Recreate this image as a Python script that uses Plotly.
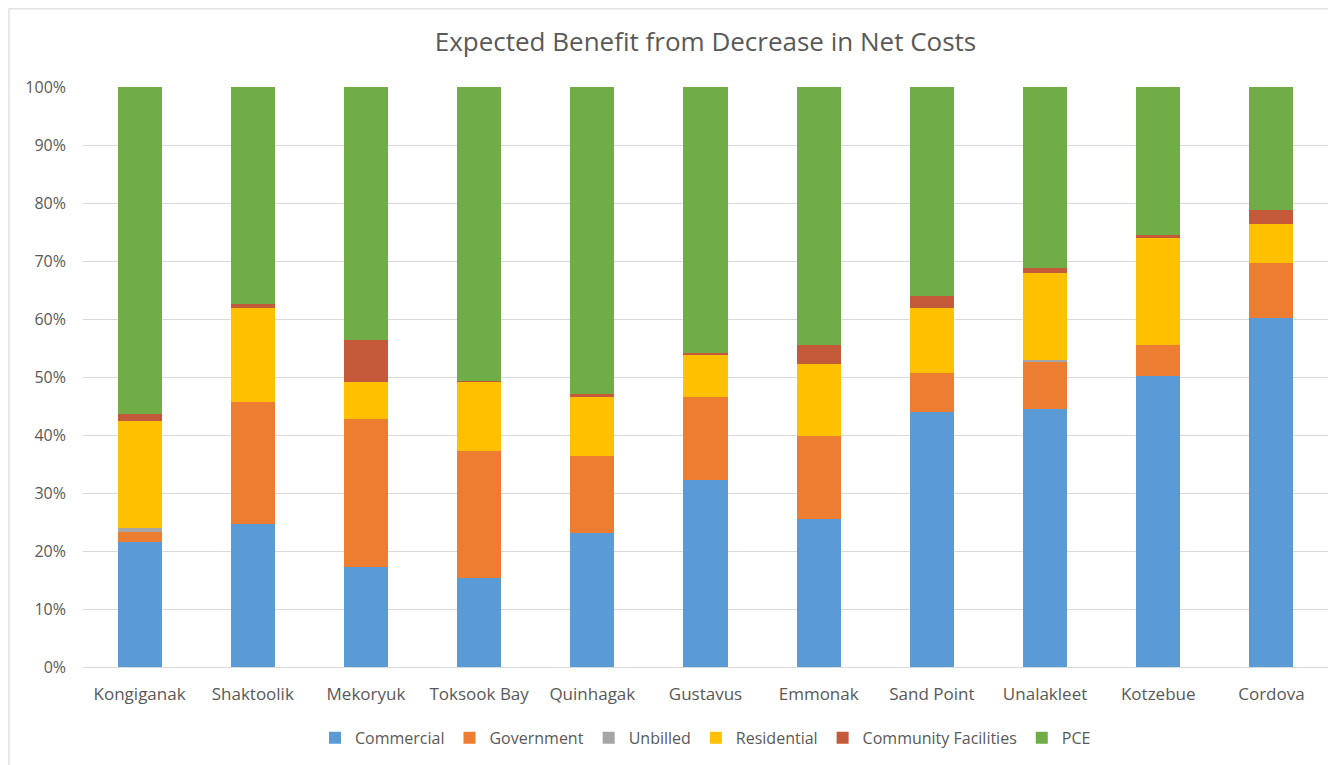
import plotly.graph_objects as go

communities = ["Kongiganak", "Shaktoolik", "Mekoryuk", "Toksook Bay", "Quinhagak",
               "Gustavus", "Emmonak", "Sand Point", "Unalakleet", "Kotzebue", "Cordova"]

commercial = [21.6, 24.7, 17.3, 15.4, 23.1, 32.2, 25.6, 44.0, 44.5, 50.2, 60.2]
government = [1.7, 21.0, 25.5, 21.8, 13.3, 14.3, 14.3, 6.7, 8.2, 5.4, 9.5]
unbilled = [0.7, 0.0, 0.0, 0.0, 0.0, 0.0, 0.0, 0.0, 0.2, 0.0, 0.0]
residential = [18.5, 16.2, 6.4, 12.0, 10.1, 7.3, 12.4, 11.2, 15.1, 18.3, 6.6]
community_facilities = [1.2, 0.7, 7.2, 0.1, 0.6, 0.3, 3.3, 2.0, 0.8, 0.6, 2.5]
pce = [56.3, 37.4, 43.6, 50.7, 52.9, 45.9, 44.4, 36.1, 31.2, 25.5, 21.2]

series = [
    ("Commercial", commercial, "#5b9bd5"),
    ("Government", government, "#ed7d31"),
    ("Unbilled", unbilled, "#a5a5a5"),
    ("Residential", residential, "#ffc000"),
    ("Community Facilities", community_facilities, "#c55a3b"),
    ("PCE", pce, "#70ad47"),
]

fig = go.Figure()
for name, vals, color in series:
    fig.add_trace(go.Bar(
        x=communities, y=[v / 100 for v in vals], name=name,
        marker=dict(color=color, line=dict(width=0)),
    ))

font = "'Open Sans', sans-serif"
fig.update_layout(
    barmode="stack",
    bargap=0.61,
    width=1328, height=757,
    margin=dict(l=75, r=8, t=79, b=98),
    paper_bgcolor="#f2f2f2",
    plot_bgcolor="white",
    font=dict(family=font, color="#595959", size=16),
    title=dict(text="Expected Benefit from Decrease in Net Costs",
               x=0.5, xref="paper", y=0.955, yref="container",
               xanchor="center", yanchor="middle",
               font=dict(size=26, color="#595959", family=font)),
    legend=dict(orientation="h", x=0.5, xanchor="center", y=-0.122, yanchor="middle",
                font=dict(size=16, color="#595959"), traceorder="normal",
                itemwidth=30, bgcolor="rgba(0,0,0,0)"),
    xaxis=dict(showgrid=False, showline=True, linecolor="#d9d9d9", linewidth=1,
               ticks="", ticklabelstandoff=12,
               tickfont=dict(size=17, color="#595959")),
    yaxis=dict(range=[0, 1], tickformat=".0%", dtick=0.1, showgrid=True,
               gridcolor="#d9d9d9", gridwidth=1, zeroline=False, showline=False,
               ticks="", ticklabelstandoff=16,
               tickfont=dict(size=16, color="#595959")),
    shapes=[dict(type="rect", xref="paper", yref="paper",
                 x0=-0.0594, x1=1.02, y0=-0.2, y1=1.1345,
                 fillcolor="white", line=dict(color="#d9d9d9", width=1),
                 layer="below")],
)

fig.write_html("out.html")
